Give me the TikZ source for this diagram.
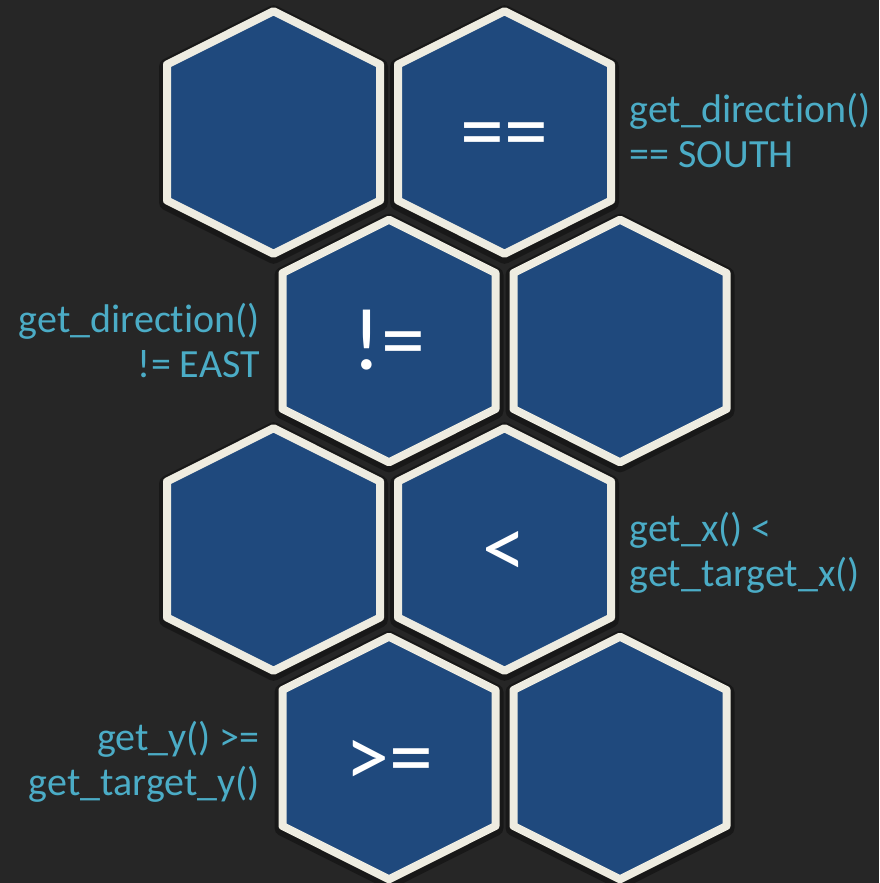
\documentclass[tikz,border=0pt]{standalone}
\usepackage{fontspec}
\setmainfont{Carlito}[Ligatures=NoCommon]
\usetikzlibrary{positioning}

\definecolor{bgdark}{HTML}{262626}
\definecolor{hexblue}{HTML}{1F497D}
\definecolor{hexrim}{HTML}{EEECE1}
\definecolor{condcyan}{HTML}{4BACC6}

\begin{document}
\begin{tikzpicture}[
  x=1pt, y=-1pt,
  every node/.style={inner sep=0pt},
  rim/.style={draw=hexrim, fill=hexblue, line width=8pt, line join=round},
  hexshade/.style={draw=black, line width=16pt, opacity=0.35, line join=round},
  op/.style={text=white, font=\fontsize{88}{100}\selectfont, anchor=base, yshift=-28pt},
  cond/.style={text=condcyan, font=\fontsize{40}{45}\selectfont, text depth=0pt},
  condleft/.style={cond, align=right},
  condright/.style={cond, align=left},
  pics/hexcell/.style={code={
    \draw[hexshade] (0,-119.3) -- (106.5,-66) -- (106.5,70) -- (0,123.3)
      -- (-106.5,70) -- (-106.5,-66) -- cycle;
    \draw[rim] (0,-121.3) -- (106.5,-68) -- (106.5,68) -- (0,121.3)
      -- (-106.5,68) -- (-106.5,-68) -- cycle;
  }}
]
  \fill[bgdark] (0,0) rectangle (879,883);
  \clip (0,0) rectangle (879,883);

  % honeycomb, four rows of two
  \coordinate (h1) at (273.5,132.5);
  \coordinate (h2) at (504.5,132.5);
  \coordinate (h3) at (389,341);
  \coordinate (h4) at (620,341);
  \coordinate (h5) at (273.5,549.5);
  \coordinate (h6) at (504.5,549.5);
  \coordinate (h7) at (389,758);
  \coordinate (h8) at (620,758);

  \pic at (h1) {hexcell};
  \pic at (h2) {hexcell};
  \pic at (h3) {hexcell};
  \pic at (h4) {hexcell};
  \pic at (h5) {hexcell};
  \pic at (h6) {hexcell};
  \pic at (h7) {hexcell};
  \pic at (h8) {hexcell};

  % operators
  \node[op] (eqop) at (h2) {==};
  \node[op] (neqop) at (h3) {!=};
  \node[op] (ltop) at (h6) {<};
  \node[op] (geop) at (h7) {>=};

  % conditions
  \node[condright, right=125pt of h2, yshift=2pt] (southcond) {get\_direction()\\== SOUTH};
  \node[condleft, left=129pt of h3, yshift=1pt] (eastcond) {get\_direction()\\!= EAST};
  \node[condright, right=125pt of h6] (xcond) {get\_x() <\\get\_target\_x()};
  \node[condleft, left=129pt of h7] (ycond) {get\_y() >=\\get\_target\_y()};
\end{tikzpicture}
\end{document}
